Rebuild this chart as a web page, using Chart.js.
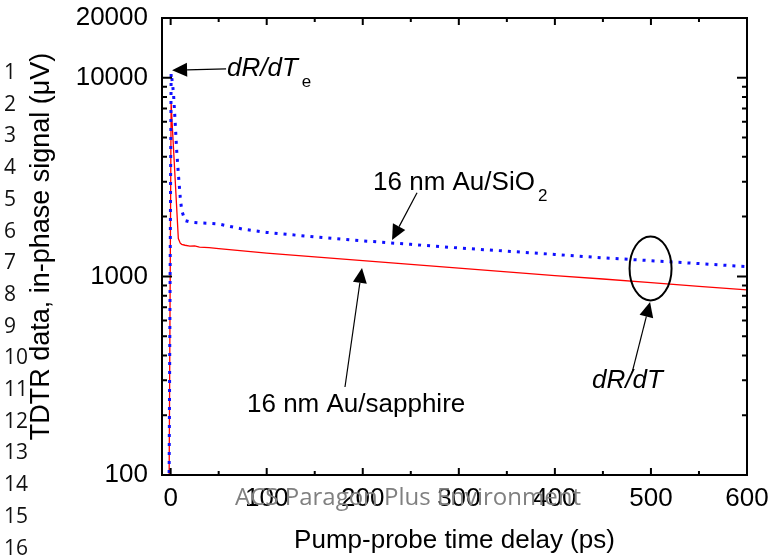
<!DOCTYPE html>
<html><head><meta charset="utf-8">
<script src="https://cdn.jsdelivr.net/npm/chart.js@4.4.1/dist/chart.umd.min.js"></script>
<style>
html,body{margin:0;padding:0;background:#fff;}
#wrap{position:relative;width:772px;height:556px;overflow:hidden;background:#fff;}
#c{position:absolute;left:0;top:0;}
.ln{position:absolute;left:4px;font-family:"Open Sans";font-size:21px;line-height:21px;color:#111;white-space:nowrap;}
#wm{position:absolute;left:408px;top:484px;transform:translateX(-50%);font-family:"Open Sans";font-size:24px;line-height:24px;color:#808080;white-space:nowrap;}
</style></head><body>
<div id="wrap">
<canvas id="c" width="772" height="556"></canvas>
<div id="lines"></div>
<div id="wm">ACS Paragon Plus Environment</div>
</div>
<script>
// ---- data ----
const timeDelay      = [-2, 0.5, 2, 3, 4.6, 6.3, 8, 10, 11.5, 15, 20, 25, 30, 40, 50, 75, 100, 150, 200, 250, 300, 350, 400, 450, 500, 550, 600];
const sio2Signal     = [40, 10560, 9300, 8300, 6100, 4300, 3300, 2500, 2150, 1910, 1880, 1870, 1860, 1850, 1835, 1730, 1665, 1580, 1510, 1450, 1390, 1340, 1290, 1240, 1200, 1160, 1120];
const sapphireSignal = [40, 7450, 5400, 4390, 3150, 2210, 1550, 1470, 1450, 1435, 1420, 1425, 1405, 1395, 1380, 1345, 1310, 1255, 1200, 1150, 1100, 1055, 1010, 970, 930, 890, 855];
const seriesNames = ['16 nm Au/SiO2', '16 nm Au/sapphire'];
const xTickValues = [0, 100, 200, 300, 400, 500, 600];
const xMinorTickValues = [50, 150, 250, 350, 450, 550];
const yTickValues = [100, 1000, 10000, 20000];
const yMinorTickValues = [200, 300, 400, 500, 600, 700, 800, 900, 2000, 3000, 4000, 5000, 6000, 7000, 8000, 9000];
const lineNumbers = [1,2,3,4,5,6,7,8,9,10,11,12,13,14,15,16];

// annotation anchors in data units
const arrowList = [
  {from: [57.7, 11100], to: [1.5, 10910]},
  {from: [256.5, 2635], to: [230.5, 1527]},
  {from: [181.5, 277.5], to: [199.2, 1103]},
  {from: [480.3, 326.6], to: [499.1, 743.8]}
];
const ellipseCenter = [499.6, 1097];
const labelList = [
  {at: [58.7, 10235], main: 'dR/dT', italic: true, sub: 'e'},
  {at: [210.7, 2728], main: '16 nm Au/SiO', italic: false, sub: '2'},
  {at: [79.5, 207.7], main: '16 nm Au/sapphire', italic: false, sub: ''},
  {at: [438.7, 274.4], main: 'dR/dT', italic: true, sub: ''}
];

// line numbers (HTML text)
const lnBox = document.getElementById('lines');
lineNumbers.forEach((n, i) => {
  const d = document.createElement('div');
  d.className = 'ln';
  d.textContent = String(n);
  d.style.top = (72 + i * 31.7 - 11) + 'px';
  lnBox.appendChild(d);
});

const FONT = "'Liberation Sans', Arial, sans-serif";
Chart.defaults.font.family = FONT;
Chart.defaults.color = '#000';

const frameTicks = {
  id: 'frameTicks',
  afterDatasetsDraw(chart) {
    const {ctx, chartArea: a, scales: {x, y}} = chart;
    ctx.save();
    ctx.strokeStyle = '#000';
    ctx.lineWidth = 2;
    ctx.beginPath();
    const xt = (vals, len) => vals.forEach(v => {
      const p = x.getPixelForValue(v);
      ctx.moveTo(p, a.bottom); ctx.lineTo(p, a.bottom - len);
      ctx.moveTo(p, a.top); ctx.lineTo(p, a.top + len);
    });
    const yt = (vals, len) => vals.forEach(v => {
      const p = y.getPixelForValue(v);
      ctx.moveTo(a.left, p); ctx.lineTo(a.left + len, p);
      ctx.moveTo(a.right, p); ctx.lineTo(a.right - len, p);
    });
    xt(xTickValues, 7); xt(xMinorTickValues, 4);
    yt(yTickValues.filter(v => v < 20000), 10); yt(yMinorTickValues, 5);
    ctx.stroke();
    ctx.strokeRect(a.left, a.top, a.right - a.left, a.bottom - a.top);
    ctx.restore();
  }
};

const notes = {
  id: 'notes',
  afterDraw(chart) {
    const {ctx, scales: {x, y}} = chart;
    const px = p => [x.getPixelForValue(p[0]), y.getPixelForValue(p[1])];
    ctx.save();
    ctx.strokeStyle = '#000'; ctx.fillStyle = '#000';
    arrowList.forEach(ar => {
      const [x1, y1] = px(ar.from), [x2, y2] = px(ar.to);
      const ang = Math.atan2(y2 - y1, x2 - x1);
      const L = 15, W = 7;
      const bx = x2 - L * Math.cos(ang), by = y2 - L * Math.sin(ang);
      ctx.lineWidth = 1.2;
      ctx.beginPath(); ctx.moveTo(x1, y1); ctx.lineTo(bx, by); ctx.stroke();
      ctx.beginPath();
      ctx.moveTo(x2, y2);
      ctx.lineTo(bx + W * Math.sin(ang), by - W * Math.cos(ang));
      ctx.lineTo(bx - W * Math.sin(ang), by + W * Math.cos(ang));
      ctx.closePath(); ctx.fill();
    });
    const [ex, ey] = px(ellipseCenter);
    ctx.lineWidth = 2;
    ctx.beginPath(); ctx.ellipse(ex, ey, 21, 32, 0, 0, Math.PI * 2); ctx.stroke();
    ctx.textBaseline = 'alphabetic'; ctx.textAlign = 'left';
    labelList.forEach(lb => {
      const [lx, ly] = px(lb.at);
      ctx.font = (lb.italic ? 'italic ' : '') + '26px ' + FONT;
      ctx.fillText(lb.main, lx, ly);
      if (lb.sub) {
        const w = ctx.measureText(lb.main).width;
        ctx.font = '17px ' + FONT;
        ctx.fillText(lb.sub, lx + w + (lb.italic ? 4 : 3), ly + 11);
      }
    });
    ctx.restore();
  }
};

new Chart(document.getElementById('c'), {
  type: 'line',
  data: {
    datasets: [
      {label: seriesNames[0], data: timeDelay.map((t, i) => ({x: t, y: sio2Signal[i]})),
       borderColor: '#1010ff', borderWidth: 3, borderDash: [3, 6], borderCapStyle: 'butt', pointRadius: 0, tension: 0, fill: false},
      {label: seriesNames[1], data: timeDelay.map((t, i) => ({x: t, y: sapphireSignal[i]})),
       borderColor: '#ff0000', borderWidth: 1.3, pointRadius: 0, tension: 0, fill: false}
    ]
  },
  options: {
    responsive: false, animation: false, devicePixelRatio: 1,
    layout: {padding: {top: 18, right: 25, left: 0, bottom: 0}},
    plugins: {legend: {display: false}, tooltip: {enabled: false}},
    scales: {
      x: {
        type: 'linear', min: -9, max: 600,
        grid: {display: false, drawTicks: false},
        border: {display: false},
        afterBuildTicks: s => { s.ticks = xTickValues.map(v => ({value: v})); },
        afterFit: s => { s.height = 81; s.paddingLeft = 0; s.paddingRight = 0; },
        ticks: {padding: 8, autoSkip: false, maxRotation: 0, font: {size: 26}, callback: v => String(v)},
        title: {display: true, text: 'Pump-probe time delay (ps)', font: {size: 26}, padding: {top: 0, bottom: 0}}
      },
      y: {
        type: 'logarithmic', min: 100, max: 20000,
        grid: {display: false, drawTicks: false},
        border: {display: false},
        afterBuildTicks: s => { s.ticks = yTickValues.map(v => ({value: v})); },
        afterFit: s => { s.width = 162; s.paddingTop = 0; s.paddingBottom = 0; },
        ticks: {padding: 14, autoSkip: false, font: {size: 26}, callback: v => String(v)},
        title: {display: true, text: 'TDTR data, in-phase signal (μV)', font: {size: 27}, padding: {top: 25, bottom: 0}}
      }
    }
  },
  plugins: [frameTicks, notes]
});
</script>
</body></html>
